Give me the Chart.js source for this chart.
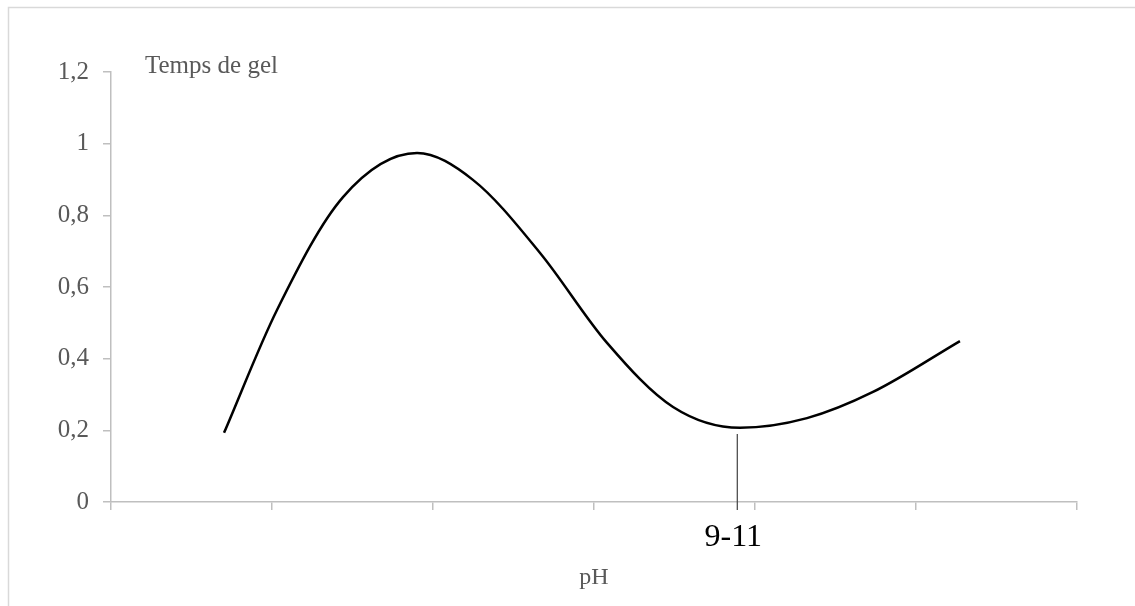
<!DOCTYPE html>
<html lang="fr">
<head>
  <meta charset="UTF-8" />
  <title>Temps de gel / pH</title>
  <script src="https://cdn.jsdelivr.net/npm/chart.js"></script>
  <style>
    html, body { margin: 0; padding: 0; background: #fff; }
    #wrap { width: 1135px; height: 606px; position: relative; }
  </style>
</head>
<body>
  <div id="wrap"><canvas id="chart" width="1135" height="606"></canvas></div>
  <script>
    // curve (x in axis units, 0..6)
    const phPos   = [0.702, 1.031, 1.441, 1.901, 2.248, 2.665, 3.081, 3.491, 3.907, 4.323, 4.733, 5.273];
    const gelTime = [0.193, 0.536, 0.851, 0.974, 0.899, 0.695, 0.444, 0.265, 0.207, 0.234, 0.307, 0.449];

    const yTickLabels = ['0', '0,2', '0,4', '0,6', '0,8', '1', '1,2'];

    // "9-11" marker
    const markX = [3.89, 3.89];
    const markY = [0.19, -0.022];
    const markLabel = '9-11';

    const serif = "'Liberation Serif', 'Times New Roman', serif";
    const grey = '#595959';
    const axisGrey = '#bfbfbf';

    const curve = phPos.map((x, i) => ({ x, y: gelTime[i] }));
    const mark = markX.map((x, i) => ({ x, y: markY[i] }));

    const extras = {
      id: 'extras',
      beforeDraw(chart) {
        const ctx = chart.ctx;
        ctx.save();
        ctx.strokeStyle = '#d9d9d9';
        ctx.lineWidth = 1.5;
        ctx.strokeRect(8.5, 7.5, 2000, 2000);
        ctx.restore();
      },
      afterDraw(chart) {
        const ctx = chart.ctx;
        const xs = chart.scales.x;
        ctx.save();
        ctx.fillStyle = grey;
        ctx.font = '25px ' + serif;
        ctx.textAlign = 'left';
        ctx.textBaseline = 'middle';
        ctx.fillText('Temps de gel', 145, 66);
        ctx.fillStyle = '#000';
        ctx.font = '32px ' + serif;
        ctx.textAlign = 'center';
        ctx.fillText(markLabel, xs.getPixelForValue(markX[0]) - 4, 538);
        ctx.restore();
      }
    };

    new Chart(document.getElementById('chart'), {
      type: 'scatter',
      data: {
        datasets: [
          {
            data: curve,
            showLine: true,
            borderColor: '#000',
            borderWidth: 2.5,
            pointRadius: 0,
            cubicInterpolationMode: 'monotone',
            fill: false
          },
          {
            data: mark,
            showLine: true,
            borderColor: '#404040',
            borderWidth: 1.2,
            pointRadius: 0,
            clip: false
          }
        ]
      },
      options: {
        responsive: false,
        animation: false,
        layout: { padding: { left: 0, top: 72, right: 58, bottom: 0 } },
        plugins: { legend: { display: false }, tooltip: { enabled: false } },
        scales: {
          x: {
            type: 'linear',
            min: 0,
            max: 6,
            afterFit: s => { s.height = 104; },
            ticks: { stepSize: 1, display: false },
            grid: { drawOnChartArea: false, drawTicks: true, tickLength: 8, color: axisGrey, lineWidth: 1.5 },
            border: { color: axisGrey, width: 1.5 },
            title: {
              display: true,
              text: 'pH',
              color: grey,
              font: { family: serif, size: 24 },
              padding: { top: 0, bottom: 14 }
            }
          },
          y: {
            min: 0,
            max: 1.2,
            afterFit: s => { s.width = 111; },
            ticks: {
              stepSize: 0.2,
              color: grey,
              font: { family: serif, size: 25 },
              padding: 14,
              callback: (v, i) => yTickLabels[i]
            },
            grid: { drawOnChartArea: false, drawTicks: true, tickLength: 8, color: axisGrey, lineWidth: 1.5 },
            border: { color: axisGrey, width: 1.5 }
          }
        }
      },
      plugins: [extras]
    });
  </script>
</body>
</html>
